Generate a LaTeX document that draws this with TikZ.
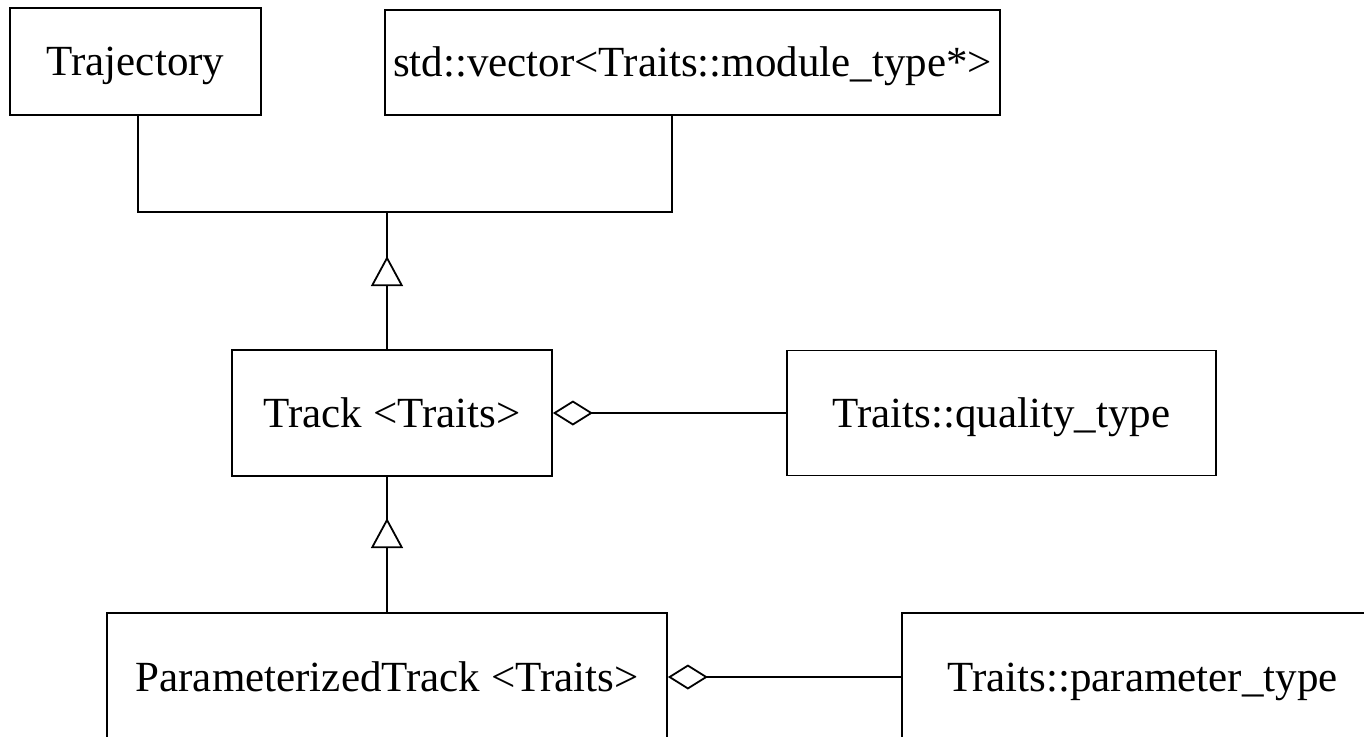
\documentclass[tikz,border=0pt]{standalone}
\usepackage{fontspec}
\setmainfont{Liberation Serif}
\usetikzlibrary{arrows.meta,decorations.markings}
\begin{document}
\begin{tikzpicture}[x=1pt,y=-1pt,
  cls/.style={draw, line width=1.8pt, rectangle, inner sep=0pt,
    text height=28.5pt, text depth=0pt,
    font=\fontsize{43}{50}\selectfont},
  link/.style={line width=1.8pt},
  inherit/.style={link, postaction={decorate}, decoration={markings,
    mark=at position #1 with {\arrow[line width=1.8pt]{Triangle[open, length=30pt, width=32pt, fill=white]}}}},
  aggr/.style={link, {Diamond[open, length=40pt, width=25pt, fill=white]}-}]
\useasboundingbox (0,0) rectangle (1364,736);
\clip (0,0) rectangle (1364,736);

% classes
\node[cls, minimum width=251pt, minimum height=107pt] (traj) at (135.5,61.5) {Trajectory};
\node[cls, minimum width=615pt, minimum height=105pt] (vec) at (692.5,62.5) {std::vector<Traits::module\_type*>};
\node[cls, minimum width=320pt, minimum height=126pt] (track) at (392,413) {Track <Traits>};
\node[cls, minimum width=429pt, minimum height=125pt] (qual) at (1001.5,413) {Traits::quality\_type};
\node[cls, minimum width=560pt, minimum height=128pt] (ptrack) at (387,677) {ParameterizedTrack <Traits>};
\node[cls, minimum width=481pt, minimum height=128pt] (param) at (1142.5,677) {Traits::parameter\_type};

% joint of the two base classes
\coordinate (j) at (387,212);
\draw[link] ([xshift=2.5pt]traj.south) |- (j);
\draw[link] ([xshift=-20.5pt]vec.south) |- (j);

% generalisation
\draw[inherit=93pt] (track.north -| j) -- (j);
\draw[inherit=94pt] (ptrack.north) -- (ptrack.north |- track.south);

% aggregation
\draw[aggr] (track.east) -- (qual.west);
\draw[aggr] (ptrack.east) -- (param.west);
\end{tikzpicture}
\end{document}
